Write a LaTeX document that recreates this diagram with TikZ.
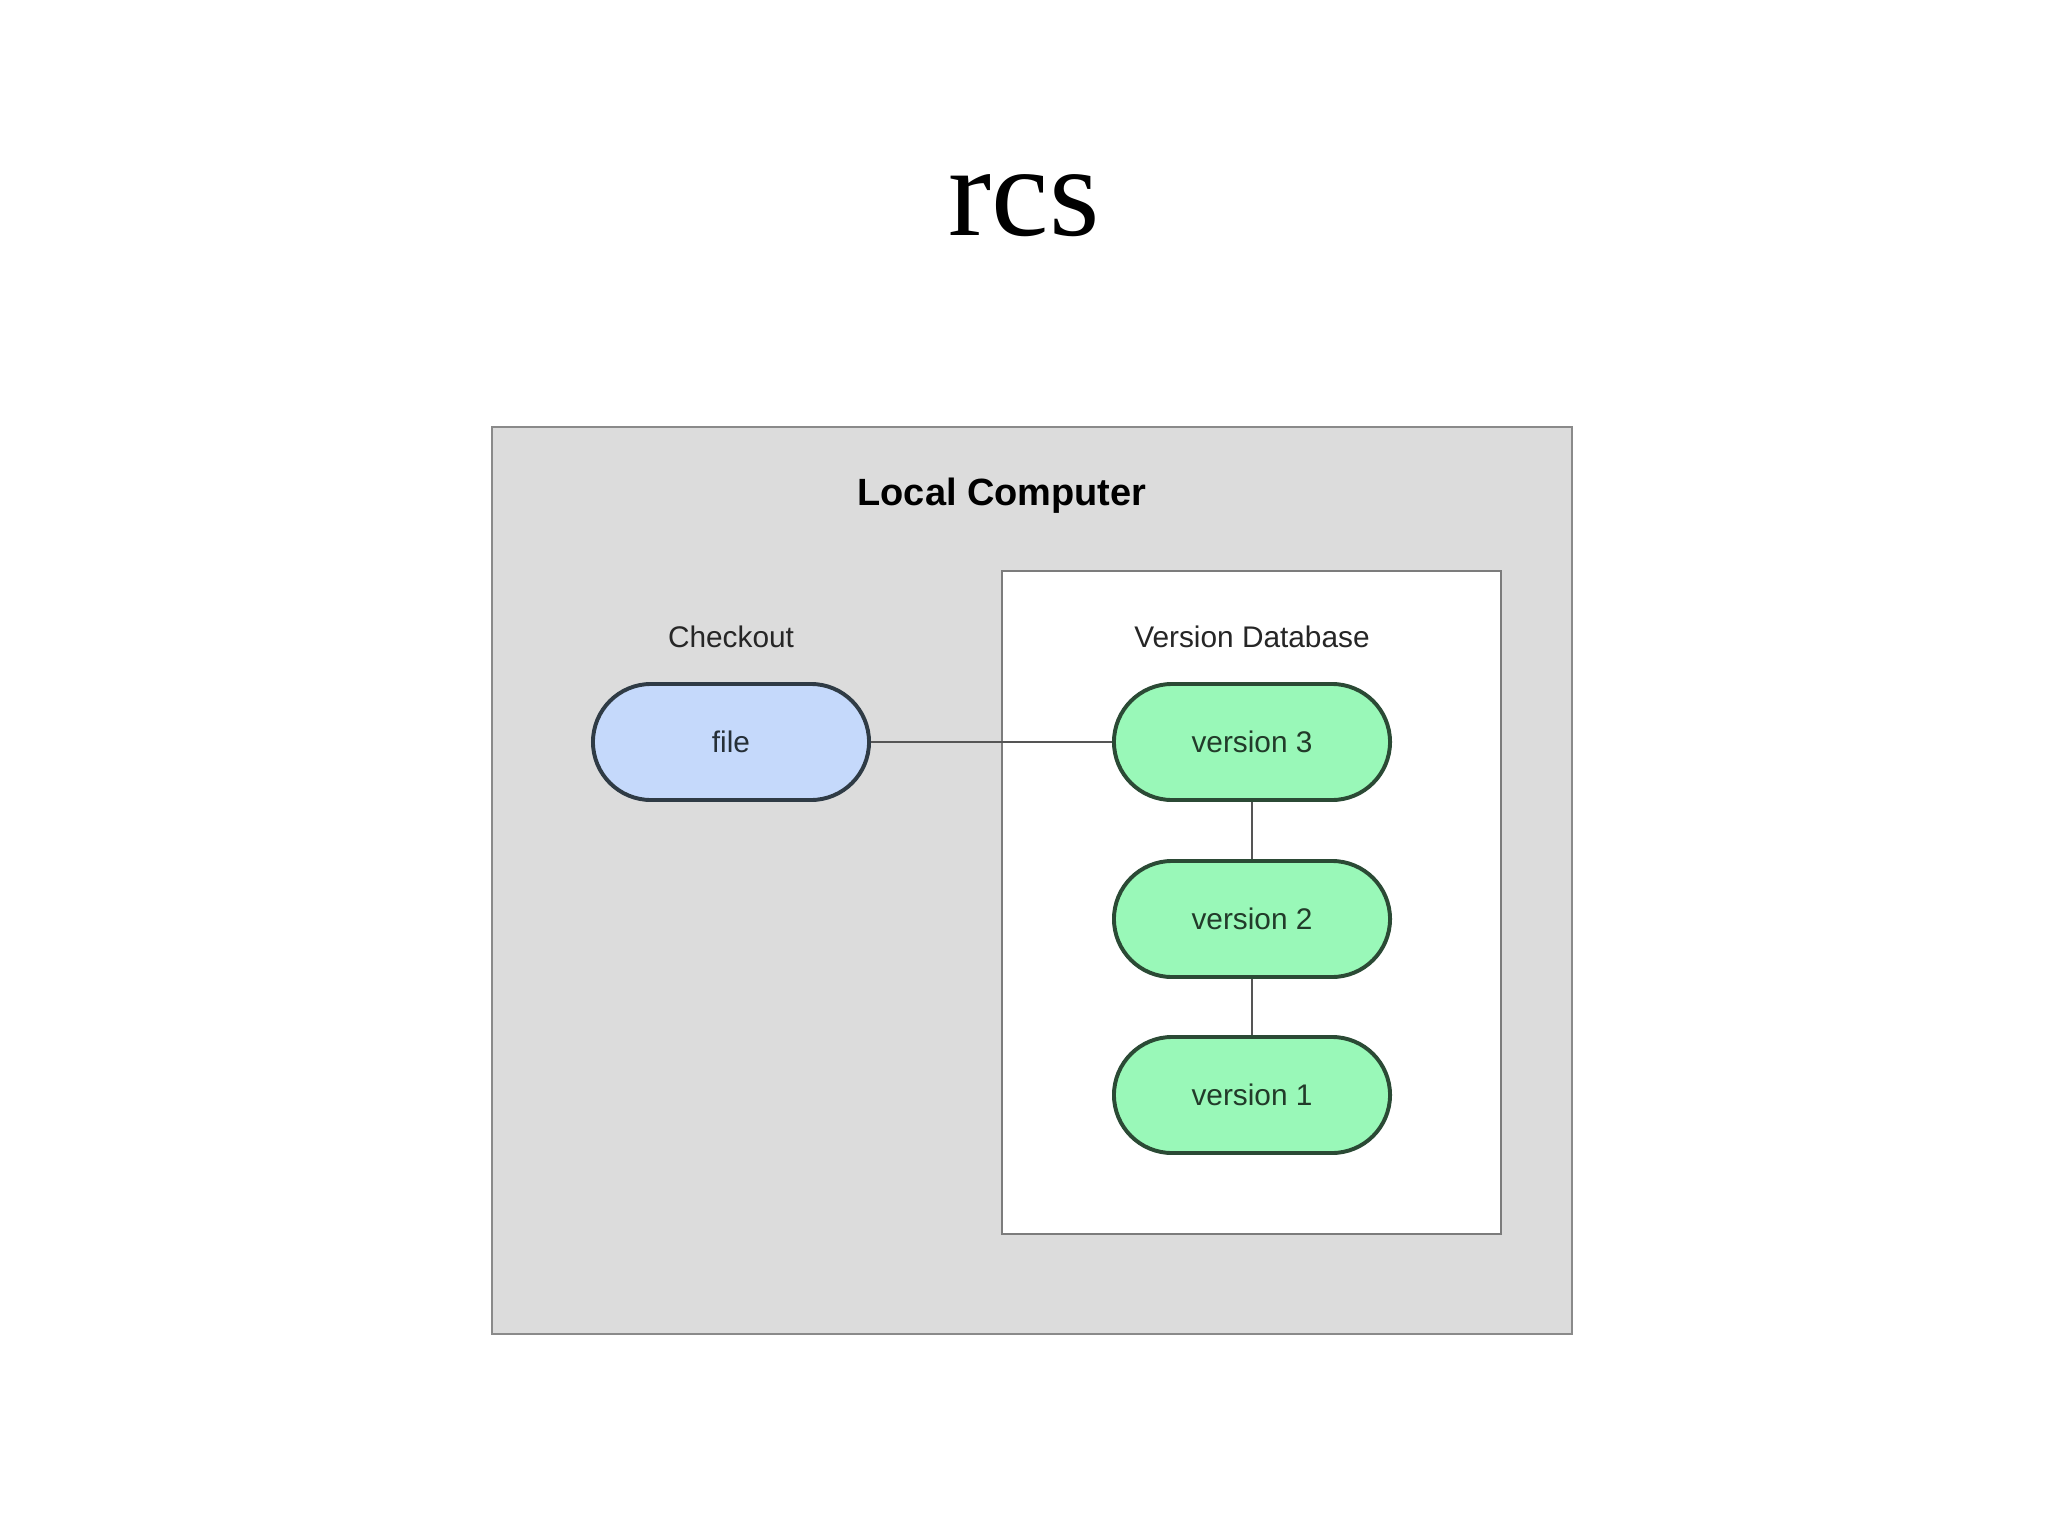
\documentclass[tikz,border=0pt]{standalone}
\usepackage{fontspec}
\setmainfont{Liberation Sans}
\newfontfamily\titlefont{Liberation Serif}
\usepackage{tikz}

\definecolor{boxgray}{HTML}{DCDCDC}
\definecolor{boxedge}{HTML}{8A8A8A}
\definecolor{fileblue}{HTML}{C5D9FB}
\definecolor{fileedge}{HTML}{2F3B45}
\definecolor{vergreen}{HTML}{99F8B8}
\definecolor{veredge}{HTML}{2B4A35}
\definecolor{linkgray}{HTML}{555555}

\begin{document}
\begin{tikzpicture}[x=0.0125cm, y=-0.0125cm,
        pill/.style={rounded corners=0.725cm, minimum width=3.45cm, minimum height=1.45cm,
            line width=1.4pt, inner sep=0pt, font=\fontsize{10.6}{12}\selectfont},
        filepill/.style={pill, draw=fileedge, fill=fileblue, text=fileedge!80!black},
        verpill/.style={pill, draw=veredge, fill=vergreen, text=veredge!80!black},
        label/.style={font=\fontsize{10.6}{12}\selectfont, text=black!85, anchor=base},
        link/.style={draw=linkgray, line width=1pt}]
        \useasboundingbox (0,0) rectangle (2048,1536);

        \node[font=\titlefont\fontsize{46}{50}\selectfont, anchor=base] (title) at (1024,235) {rcs};

        % local computer
        \draw[fill=boxgray, draw=boxedge, line width=0.9pt] (492,427) rectangle (1572,1334);
        \node[font=\bfseries\fontsize{13.5}{15}\selectfont, anchor=base] (local) at (1002,505) {Local Computer};

        % version database
        \draw[fill=white, draw=boxedge!90!black, line width=0.9pt] (1002,571) rectangle (1501,1234);

        \node[label] (checkout) at (731,647) {Checkout};
        \node[label] (vdb) at (1252,647) {Version Database};

        \node[filepill] (file) at (731,742) {file};
        \node[verpill] (v3) at (1252,742) {version 3};
        \node[verpill] (v2) at (1252,919) {version 2};
        \node[verpill] (v1) at (1252,1095) {version 1};

        \draw[link] (file) -- (v3);
        \draw[link] (v3) -- (v2);
        \draw[link] (v2) -- (v1);
\end{tikzpicture}
\end{document}
